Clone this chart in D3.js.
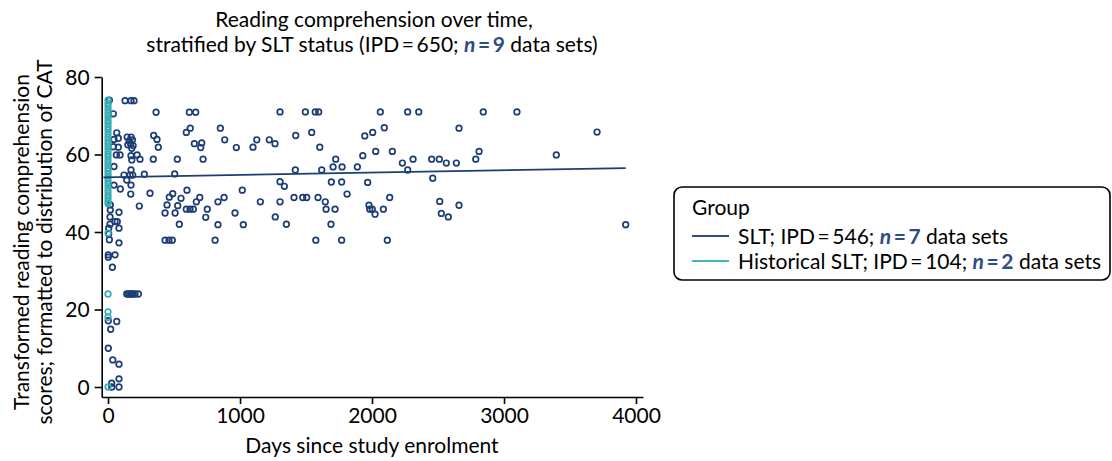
<!DOCTYPE html>
<html>
<head>
<meta charset="utf-8">
<script src="https://cdn.jsdelivr.net/npm/d3@7"></script>
<style>
    body { margin: 0; background: #fff; }
    text { font-family: Lato, "Open Sans", sans-serif; fill: #000; }
</style>
</head>
<body>
<script>
// Days since enrolment and transformed score.
const sltPoints = [
    [1303, 71], [1495, 71], [1570, 71], [1596, 71], [2063, 71], [2270, 71], [2354, 71], [2843, 71], [3098, 71],
    [2093, 66.9], [2659, 66.8], [1543, 65.7], [2005, 65.7], [1422, 64.9], [1945, 64.8], [1127, 63.8], [1222, 63.8],
    [1265, 62.8], [1098, 61.9], [1604, 61.9], [2028, 60.8], [2154, 60.8], [2811, 60.8], [1930, 59.7], [1725, 58.8],
    [2311, 58.8], [2452, 58.8], [2510, 58.8], [2786, 58.8], [2230, 57.8], [2563, 57.8], [2639, 57.8], [1705, 56.8],
    [1773, 56.8], [1889, 56.8], [1419, 56], [1619, 56], [2270, 56], [2460, 53.9], [1303, 53], [1692, 52.9],
    [1770, 52.9], [1967, 52.8], [1336, 51.8], [1811, 49.8], [1409, 48.9], [1475, 48.9], [1505, 48.9], [1591, 48.9],
    [2134, 48.9], [1154, 47.8], [1303, 47.8], [1646, 47.8], [2513, 47.9], [1977, 46.9], [2659, 46.9], [1652, 45.9],
    [1720, 45.9], [1983, 45.9], [2002, 45.9], [2086, 45.9], [2023, 44.6], [2525, 44.8], [2578, 43.9], [1267, 43.9],
    [1351, 42], [1689, 42], [1574, 37.9], [1770, 37.9], [2116, 37.9], [3396, 59.9], [3705, 65.8], [3922, 41.9],
    [616, 70.9], [664, 70.9], [851, 66.8], [623, 66.8], [593, 65.7], [884, 63.8], [654, 62.8], [710, 63],
    [702, 61.8], [972, 61.8], [525, 58.8], [720, 58.8], [505, 55], [598, 50.8], [1017, 50.8], [490, 49.9],
    [464, 49], [553, 48.7], [695, 48.9], [669, 47.8], [879, 48.9], [833, 47.8], [447, 47], [528, 46.8],
    [752, 45.9], [593, 45.9], [621, 45.9], [646, 45.9], [432, 44.9], [508, 44.9], [962, 44.9], [740, 43.8],
    [540, 42], [833, 41.9], [1025, 41.9], [432, 37.9], [462, 37.9], [487, 37.9], [811, 37.9],
    [129, 73.9], [174, 73.9], [197, 73.9], [10, 74], [364, 70.9], [40, 70.5], [66, 65.6], [346, 64.9],
    [371, 63.9], [381, 61.9], [45, 63.9], [78, 64.2], [40, 62], [78, 61.9], [63, 59.9], [91, 59.9],
    [145, 64.5], [160, 63.5], [175, 64.5], [185, 63.8], [150, 62.5], [170, 62.8], [190, 62.3], [180, 61.6],
    [174, 59.7], [220, 59.9], [242, 58.8], [180, 58.6], [343, 58.8], [45, 56.9], [121, 54.7], [174, 56],
    [167, 54.7], [187, 54.7], [275, 54.9], [142, 53.4], [45, 52.1], [93, 51.1], [174, 52.1], [172, 49.8],
    [318, 50], [237, 46.7], [17, 47], [17, 45.7], [83, 45.1], [15, 43.9], [53, 42.7], [70, 42.7], [15, 42],
    [83, 41], [5, 41], [5, 39.5], [10, 38], [83, 37.2],
    [2, 34.1], [2, 33.5], [53, 34.1], [33, 30.9], [142, 24], [155, 24], [167, 24], [178, 24], [189, 24],
    [205, 24], [230, 24], [2, 17.1], [66, 16.9], [20, 14.9], [2, 10], [36, 7], [83, 5.9], [83, 2.1],
    [28, 1], [83, 0], [28, 0]
];

const historicalPoints = [
    [0, 74], [0, 73.2], [0, 72.4], [0, 71.5], [0, 70.6], [0, 69.7], [0, 68.8], [0, 68], [0, 67.1], [0, 66.3],
    [0, 65.4], [0, 64.5], [0, 63.6], [0, 62.8], [0, 61.9], [0, 61], [0, 60.1], [0, 59.3], [0, 58.4], [0, 57.5],
    [0, 56.6], [0, 55.8], [0, 54.9], [0, 54], [0, 53.1], [0, 52.3], [0, 51.4], [0, 50.5], [0, 49.6], [0, 48.8],
    [0, 47.9], [0, 47.3], [0, 39.7], [0, 24], [0, 19.4], [0, 18], [0, 0]
];

// Fitted line for the SLT group, ends.
const sltFit = [[-35, 54.1], [3922, 56.5]];

const xTicks = [0, 1000, 2000, 3000, 4000];
const yTicks = [0, 20, 40, 60, 80];

const navy = "#1d3d75";
const teal = "#38adb3";
const legendNavy = "#2d4c85";
const legendTeal = "#41b5ba";

const width = 1112;
const height = 461;
const fontSize = "21px";

const svg = d3.select("body")
    .append("svg")
        .attr("width", width)
        .attr("height", height);

const x = d3.scaleLinear()
    .domain([-48, 4053])
    .range([101.7, 643]);

const y = d3.scaleLinear()
    .domain([-2.58, 80])
    .range([397, 77]);

// Axes.
const xAxis = svg.append("g")
    .attr("transform", "translate(0,397)")
    .call(d3.axisBottom(x).tickValues(xTicks).tickSize(7).tickSizeOuter(0).tickPadding(4)
        .tickFormat(d3.format("d")));

const yAxis = svg.append("g")
    .attr("transform", "translate(101.7,0)")
    .call(d3.axisLeft(y).tickValues(yTicks).tickSize(7).tickSizeOuter(0).tickPadding(5));

for (const g of [xAxis, yAxis]) {
    g.select(".domain").attr("stroke", "#000").attr("stroke-width", 1.6);
    g.selectAll(".tick line").attr("stroke", "#000").attr("stroke-width", 1.6);
    g.selectAll(".tick text")
        .style("font-family", "Lato, sans-serif")
        .style("font-size", fontSize)
        .attr("fill", "#000");
}
yAxis.selectAll(".tick text").attr("dy", "0.34em");

// Points.
svg.append("g")
    .selectAll("circle")
    .data(sltPoints)
    .join("circle")
        .attr("cx", d => x(d[0]))
        .attr("cy", d => y(d[1]))
        .attr("r", 2.8)
        .attr("fill", "none")
        .attr("stroke", navy)
        .attr("stroke-width", 1.7);

svg.append("g")
    .selectAll("circle")
    .data(historicalPoints)
    .join("circle")
        .attr("cx", d => x(d[0]))
        .attr("cy", d => y(d[1]))
        .attr("r", 2.8)
        .attr("fill", "none")
        .attr("stroke", teal)
        .attr("stroke-width", 1.7);

svg.append("path")
    .datum(sltFit)
    .attr("fill", "none")
    .attr("stroke", navy)
    .attr("stroke-width", 1.8)
    .attr("d", d3.line().x(d => x(d[0])).y(d => y(d[1])));

// Title.
const title = svg.append("text")
    .attr("text-anchor", "middle")
    .style("font-size", fontSize);
title.append("tspan").attr("x", 374).attr("y", 27).text("Reading comprehension over time,");
const t2 = title.append("tspan").attr("x", 372).attr("y", 52);
t2.append("tspan").text("stratified by SLT status (IPD\u2009=\u2009650; ");
t2.append("tspan").attr("fill", legendNavy).style("font-weight", "bold").style("font-style", "italic").text("n");
t2.append("tspan").attr("fill", legendNavy).style("font-weight", "bold").text("\u2009=\u20099");
t2.append("tspan").text(" data sets)");

// Axis titles.
svg.append("text")
    .attr("x", 372)
    .attr("y", 453)
    .attr("text-anchor", "middle")
    .style("font-size", fontSize)
    .text("Days since study enrolment");

const yTitle = svg.append("text")
    .attr("transform", "translate(0,242) rotate(-90)")
    .attr("text-anchor", "middle")
    .style("font-size", fontSize);
yTitle.append("tspan").attr("x", 0).attr("y", 29).text("Transformed reading comprehension");
yTitle.append("tspan").attr("x", 0).attr("y", 52).text("scores; formatted to distribution of CAT");

// Legend.
const legend = svg.append("g");
legend.append("rect")
    .attr("x", 674)
    .attr("y", 187)
    .attr("width", 436)
    .attr("height", 93)
    .attr("rx", 8)
    .attr("fill", "#fff")
    .attr("stroke", "#000")
    .attr("stroke-width", 1.6);

legend.append("text")
    .attr("x", 692)
    .attr("y", 215)
    .style("font-size", fontSize)
    .text("Group");

const legendItems = [
    { label: "SLT; IPD\u2009=\u2009546; ", n: "7", color: legendNavy, y: 244 },
    { label: "Historical SLT; IPD\u2009=\u2009104; ", n: "2", color: legendTeal, y: 269 }
];

for (const item of legendItems) {
    legend.append("line")
        .attr("x1", 692).attr("x2", 729)
        .attr("y1", item.y - 8).attr("y2", item.y - 8)
        .attr("stroke", item.color)
        .attr("stroke-width", 1.8);
    const t = legend.append("text")
        .attr("x", 738)
        .attr("y", item.y)
        .style("font-size", fontSize);
    t.append("tspan").text(item.label);
    t.append("tspan").attr("fill", legendNavy).style("font-weight", "bold").style("font-style", "italic").text("n");
    t.append("tspan").attr("fill", legendNavy).style("font-weight", "bold").text("\u2009=\u2009" + item.n);
    t.append("tspan").text(" data sets");
}
</script>
</body>
</html>
